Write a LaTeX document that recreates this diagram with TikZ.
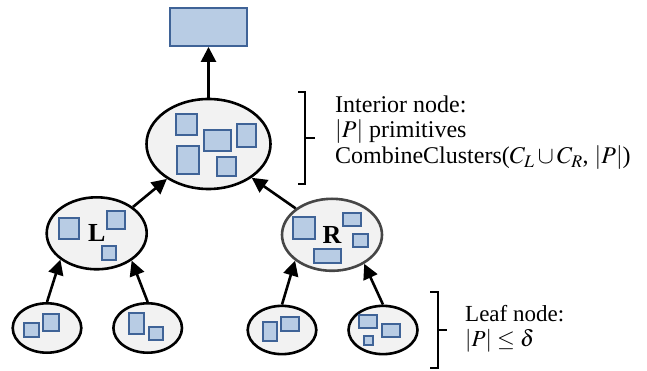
\documentclass[tikz,border=0pt]{standalone}
\usepackage{mathptmx}
\usepackage{fontspec}
\setmainfont{Liberation Serif}
\usetikzlibrary{shapes.geometric,arrows.meta}

\definecolor{cellfill}{HTML}{F2F2F2}
\definecolor{boxfill}{HTML}{B8CCE4}
\definecolor{boxline}{HTML}{3F6397}
\definecolor{greyline}{HTML}{464646}

\tikzset{
  cluster/.style={ellipse, draw=black, line width=2.6pt, fill=cellfill, inner sep=0pt},
  prim/.style={draw=boxline, fill=boxfill, line width=1.9pt},
  link/.style={line width=2.6pt, -{Triangle[length=15pt,width=15pt]}},
  brace/.style={line width=2.2pt},
  note/.style={align=left, anchor=base west, inner sep=0pt,
    font=\fontsize{24}{25.5}\selectfont},
  tag/.style={font=\fontsize{26}{26}\selectfont\bfseries}
}

\begin{document}
\begin{tikzpicture}[x=1pt,y=-1pt]
\useasboundingbox (0,0) rectangle (647,371);

% output box
\node[prim, minimum width=77pt, minimum height=38pt, inner sep=0pt] (top) at (208.5,27) {};

% interior node
\node[cluster, minimum width=124pt, minimum height=90pt] (root) at (208.5,144) {};
\draw[prim] (175.7,114) rectangle (197.3,135);
\draw[prim] (204.3,130) rectangle (230.7,151);
\draw[prim] (237.3,124) rectangle (256,146.7);
\draw[prim] (177.3,146) rectangle (198.7,174);
\draw[prim] (217,156.7) rectangle (235.7,175.7);

% children L and R
\node[cluster, minimum width=100pt, minimum height=72pt, tag] (L) at (96.7,233.3) {L};
\draw[prim] (58.7,217.7) rectangle (78.7,239);
\draw[prim] (106.7,211) rectangle (125,229);
\draw[prim] (101.7,246.3) rectangle (116,260);

\node[cluster, draw=greyline, minimum width=100pt, minimum height=72pt, tag] (R) at (332,234.8) {R};
\draw[prim] (293.3,217.3) rectangle (315.3,239);
\draw[prim] (342.7,213.3) rectangle (360.7,226);
\draw[prim] (353.3,234.3) rectangle (367.7,247.3);
\draw[prim] (314,249.3) rectangle (340.7,262.7);

% leaves
\node[cluster, minimum width=68.6pt, minimum height=49.4pt] (leaf1) at (47,328) {};
\draw[prim] (24.3,323.3) rectangle (39,337.3);
\draw[prim] (42.7,314.3) rectangle (59.3,331.3);

\node[cluster, minimum width=68.6pt, minimum height=49.4pt] (leaf2) at (147.7,328) {};
\draw[prim] (129,313.3) rectangle (143.7,333.7);
\draw[prim] (148.7,326.7) rectangle (163.3,340);

\node[cluster, minimum width=68.6pt, minimum height=48.3pt] (leaf3) at (282,330) {};
\draw[prim] (262.7,321.7) rectangle (277.3,340.7);
\draw[prim] (281.3,317.3) rectangle (299,330.7);

\node[cluster, minimum width=69pt, minimum height=48.3pt] (leaf4) at (383,330) {};
\draw[prim] (359.3,315.3) rectangle (376.7,328);
\draw[prim] (382.3,324) rectangle (399.7,337);
\draw[prim] (363.7,335.7) rectangle (372.7,344.7);

% connectors
\draw[link] (root.north) -- (top.south);
\draw[link] (L.36) -- (root.220);
\draw[link] (R.144) -- (root.322);
\draw[link] (leaf1.north) -- (L.216);
\draw[link] (leaf2.north) -- (L.322);
\draw[link] (leaf3.north) -- (R.215);
\draw[link] (leaf4.north) -- (R.318);

% braces
\coordinate (ib1) at (298,91.7);
\coordinate (ib2) at (305,91.7);
\coordinate (ib3) at (305,184);
\coordinate (ib4) at (298,184);
\coordinate (ib5) at (305,138.3);
\coordinate (ib6) at (315,138.3);
\draw[brace] (ib1) -- (ib2) -- (ib3) -- (ib4);
\draw[brace] (ib5) -- (ib6);

\coordinate (lb1) at (430,291.7);
\coordinate (lb2) at (438,291.7);
\coordinate (lb3) at (438,368);
\coordinate (lb4) at (430,368);
\coordinate (lb5) at (438,330);
\coordinate (lb6) at (447,330);
\draw[brace] (lb1) -- (lb2) -- (lb3) -- (lb4);
\draw[brace] (lb5) -- (lb6);

% annotations (base anchor sits on the last line)
\node[note] (inote) at (335,163.5) {Interior node:\\
$|P|$ primitives\\
CombineClusters($C_L\cup C_R$, $|P|$)};
\node[note, font=\fontsize{23}{25}\selectfont] (lnote) at (465,346.7) {Leaf node:\\
$|P| \leq \delta$};
\end{tikzpicture}
\end{document}
